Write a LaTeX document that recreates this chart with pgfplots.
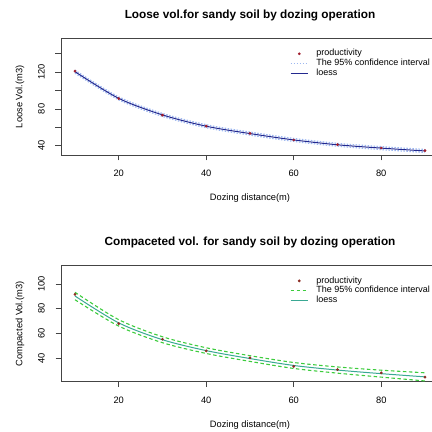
\documentclass[border=0pt]{standalone}
\usepackage{fontspec}
\setmainfont{Liberation Sans}
\usepackage{pgfplots}
\usepackage{pgfplotstable}
\pgfplotsset{compat=1.18}
\definecolor{framegray}{HTML}{444444}
\definecolor{loosept}{HTML}{A01C2C}
\definecolor{loosefit}{HTML}{23298F}
\definecolor{looseci}{HTML}{9DB7F0}
\definecolor{comppt}{HTML}{8B2A20}
\definecolor{compfit}{HTML}{3AA893}
\definecolor{compci}{HTML}{3DCC3D}
\newcommand{\rfont}{\fontsize{9.3}{11}\selectfont}

% distance, observed, loess fit, lower/upper 95% band
\pgfplotstableread{
d pt fit lo hi
10 121.2 120.5 118.9 122.1
20 91.3 91.5 89.9 93.1
30 73.2 73.5 71.9 75.1
40 61.3 61.2 59.6 62.8
50 53.4 53.2 51.6 54.8
60 46.2 46.3 44.7 47.9
70 41.1 41.0 39.4 42.6
80 37.5 37.4 35.8 39.0
90 34.6 34.3 32.7 35.9
}\loosetab
\pgfplotstableread{
d pt fit lo hi
10 91.7 90.3 87.3 93.3
20 68.0 68.6 66.0 71.2
30 55.4 55.0 52.6 57.4
40 46.0 46.2 43.9 48.5
50 40.3 39.8 37.5 42.1
60 33.5 34.2 31.8 36.6
70 30.9 30.5 28.0 33.0
80 28.2 27.6 24.8 30.4
90 24.8 25.0 21.7 28.3
}\comptab

% the R plot box runs past the right edge of the picture, so the axis stops there
\pgfplotsset{
  rplot/.style={
    scale only axis, width=371pt, height=116.5pt, anchor=south west,
    xmin=6.8, xmax=91.6, xtick={20,40,60,80},
    axis x line*=box, axis y line*=left,
    xtick pos=left, ytick pos=left, tick align=outside,
    major tick length=5.5pt,
    axis line style={draw=framegray, line width=0.9pt},
    tick style={draw=framegray, line width=0.8pt},
    /pgf/number format/assume math mode=true,
    every x tick label/.style={font=\rfont, inner sep=0pt, anchor=center, yshift=-12.8pt},
    every y tick label/.style={font=\rfont, inner sep=0pt, xshift=-14pt, rotate=90, anchor=center},
    every axis x label/.style={font=\rfont, at={(axis description cs:0,0)}, anchor=center,
      xshift=189pt, yshift=-43pt},
    every axis y label/.style={font=\rfont, at={(axis description cs:0,0.5)}, xshift=-41pt, rotate=90, anchor=center},
    every axis title/.style={at={(axis description cs:0,1)}, anchor=center, xshift=189pt, yshift=23.5pt,
      font=\fontsize{11.8}{14}\selectfont\bfseries},
    xlabel={Dozing distance(m)},
    legend cell align=left,
    legend style={draw=none, fill=none, at={(0.609,0.93)}, anchor=north west,
      font=\fontsize{9}{10.5}\selectfont, row sep=0pt,
      nodes={inner xsep=0pt, inner ysep=0.3pt, text height=6.8pt, text depth=2.4pt},
      /tikz/every odd column/.append style={column sep=8pt}},
  },
}

\begin{document}
\begin{tikzpicture}
\useasboundingbox (0,0) rectangle (432pt,432pt);
\begin{axis}[rplot, at={(61pt,277pt)},
  ymin=29.9, ymax=156.6, ytick={40,60,80,100,120,140},
  yticklabels={40,,80,,120,},
  ylabel={Loose Vol.(m3)},
  title={Loose vol.for sandy soil by dozing operation}]
  \addplot[forget plot, smooth, looseci, line width=1.2pt, dash pattern=on 1.5pt off 1.5pt] table[x=d, y=lo] {\loosetab};
  \addplot[forget plot, smooth, looseci, line width=1.2pt, dash pattern=on 1.5pt off 1.5pt] table[x=d, y=hi] {\loosetab};
  \addplot[forget plot, smooth, loosefit, line width=1pt] table[x=d, y=fit] {\loosetab};
  \addplot[forget plot, only marks, mark=*, mark size=1.2pt, loosept] table[x=d, y=pt] {\loosetab};
  \addlegendimage{only marks, mark=*, mark size=1.2pt, loosept}
  \addlegendentry{productivity}
  \addlegendimage{looseci, line width=1.2pt, dash pattern=on 1.5pt off 1.5pt}
  \addlegendentry{The 95\% confidence interval}
  \addlegendimage{loosefit, line width=1pt}
  \addlegendentry{loess}
\end{axis}
\begin{axis}[rplot, at={(61pt,50.3pt)}, height=116pt,
  ymin=21.1, ymax=114.8, ytick={40,60,80,100},
  ylabel={Compacted Vol.(m3)},
  title={Compaceted vol. for sandy soil by dozing operation}]
  \addplot[forget plot, smooth, compci, line width=1.1pt, dash pattern=on 3.5pt off 2.5pt] table[x=d, y=lo] {\comptab};
  \addplot[forget plot, smooth, compci, line width=1.1pt, dash pattern=on 3.5pt off 2.5pt] table[x=d, y=hi] {\comptab};
  \addplot[forget plot, smooth, compfit, line width=1pt] table[x=d, y=fit] {\comptab};
  \addplot[forget plot, only marks, mark=*, mark size=1.2pt, comppt] table[x=d, y=pt] {\comptab};
  \addlegendimage{only marks, mark=*, mark size=1.2pt, comppt}
  \addlegendentry{productivity}
  \addlegendimage{compci, line width=1.1pt, dash pattern=on 3.5pt off 2.5pt}
  \addlegendentry{The 95\% confidence interval}
  \addlegendimage{compfit, line width=1pt}
  \addlegendentry{loess}
\end{axis}
\end{tikzpicture}
\end{document}
